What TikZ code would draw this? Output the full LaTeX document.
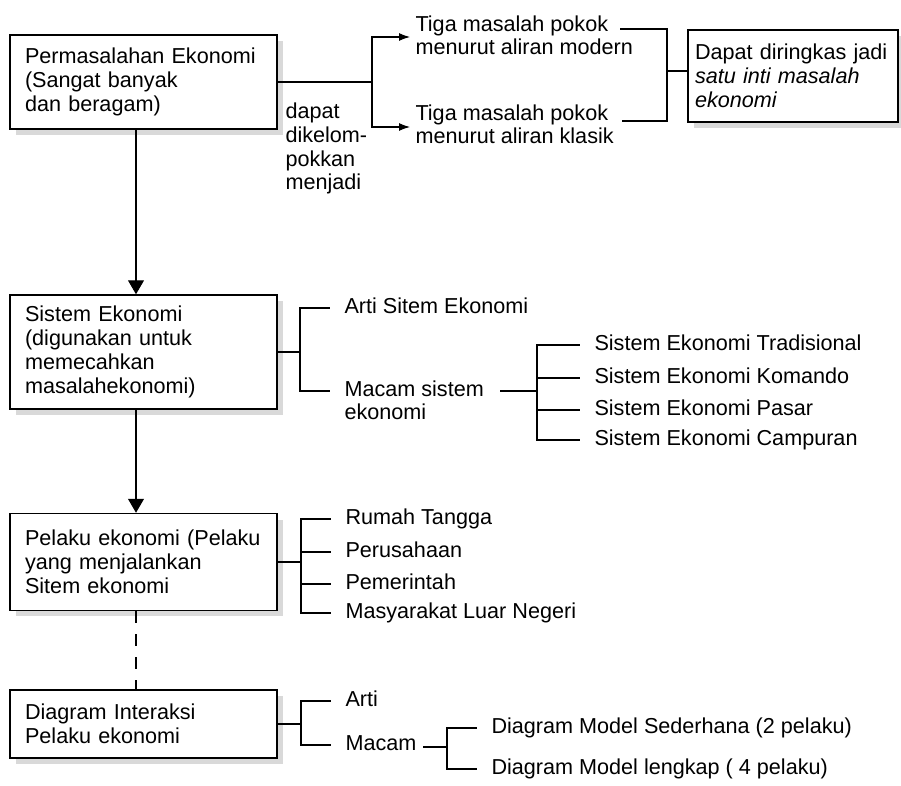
\documentclass[tikz,border=0pt]{standalone}
\usepackage{fontspec}
\setsansfont{Liberation Sans}
\usetikzlibrary{arrows.meta,shadows}
\tikzset{
  kotak/.style={draw, fill=white, line width=0.85pt, align=left, text width=4.74cm,
    inner xsep=0.3cm, minimum height=#1,
    drop shadow={shadow xshift=0.12cm, shadow yshift=-0.12cm, fill=black!15, opacity=1}},
  daun/.style={anchor=west, inner xsep=0.28cm, inner ysep=0.05cm, text height=9pt, text depth=2.6pt},
  panah/.style={-{Triangle[length=0.28cm,width=0.32cm]}},
  panahkecil/.style={-{Latex[length=0.22cm,width=0.16cm]}}
}
\begin{document}
\begin{tikzpicture}[x=0.02cm, y=-0.02cm, font=\sffamily\fontsize{12.3}{13.6}\selectfont, line width=0.6pt]
  \useasboundingbox (0,0) rectangle (901,786);
  % kotak utama
  \node[kotak=1.88cm] (masalah) at (143.5,82) {Permasalahan Ekonomi\\(Sangat banyak\\dan beragam)};
  \node[kotak=2.28cm] (sistem) at (143.5,352) {Sistem Ekonomi\\(digunakan untuk\\memecahkan\\masalahekonomi)};
  \node[kotak=1.94cm] (pelaku) at (143.5,562) {Pelaku ekonomi (Pelaku\\yang menjalankan\\Sitem ekonomi};
  \node[kotak=1.36cm] (diagram) at (143.5,724) {Diagram Interaksi\\Pelaku ekonomi};
  \node[kotak=1.84cm, text width=3.92cm, inner xsep=0.14cm] (inti) at (793,76) {Dapat diringkas jadi\\\textit{satu inti masalah}\\\textit{ekonomi}};
  \coordinate (sumbu) at (136,0);
  \draw[panah] (masalah.south -| sumbu) -- (sistem.north -| sumbu);
  \draw[panah] (sistem.south -| sumbu) -- (pelaku.north -| sumbu);
  \draw[dash pattern=on 0.24cm off 0.22cm] (pelaku.south -| sumbu) -- (diagram.north -| sumbu);

  % masalah pokok
  \coordinate (c1) at (372,82); \coordinate (gabung) at (667,71);
  \coordinate (ujung1) at (620,29); \coordinate (ujung2) at (622,121);
  \node[anchor=base west, align=left, inner xsep=0.1cm] (modern) at (410,55) {Tiga masalah pokok\\menurut aliran modern};
  \node[anchor=base west, align=left, inner xsep=0.1cm] (klasik) at (410,144) {Tiga masalah pokok\\menurut aliran klasik};
  \node[anchor=base west, align=left, inner sep=0pt] (catatan) at (285,190) {dapat\\dikelom-\\pokkan\\menjadi};
  \draw (masalah.east) -- (c1);
  \draw[panahkecil] (c1) |- ([yshift=0.36cm]modern.base west);
  \draw[panahkecil] (c1) |- ([yshift=0.34cm]klasik.base west);
  \draw (ujung1) -| (gabung) |- (ujung2);
  \draw (gabung) -- (inti.west |- gabung);

  % sistem ekonomi
  \coordinate (c2) at (300,352); \coordinate (m1) at (500,391); \coordinate (c3) at (537,391);
  \node[daun] (arti) at (330,308) {Arti Sitem Ekonomi};
  \node[daun] (macam) at (330,391) {Macam sistem};
  \node[daun] (macam2) at (330,414) {ekonomi};
  \node[daun] (trad) at (580,345) {Sistem Ekonomi Tradisional};
  \node[daun] (komando) at (580,378) {Sistem Ekonomi Komando};
  \node[daun] (pasar) at (580,410) {Sistem Ekonomi Pasar};
  \node[daun] (campuran) at (580,440) {Sistem Ekonomi Campuran};
  \draw (sistem.east) -- (c2);
  \foreach \n in {arti,macam} \draw (c2) |- (\n.west);
  \draw (m1) -- (c3);
  \foreach \n in {trad,komando,pasar,campuran} \draw (c3) |- (\n.west);

  % pelaku ekonomi
  \coordinate (c4) at (301,562);
  \node[daun] (rumah) at (331,519) {Rumah Tangga};
  \node[daun] (perusahaan) at (331,552) {Perusahaan};
  \node[daun] (pemerintah) at (331,584) {Pemerintah};
  \node[daun] (luar) at (331,613) {Masyarakat Luar Negeri};
  \draw (pelaku.east) -- (c4);
  \foreach \n in {rumah,perusahaan,pemerintah,luar} \draw (c4) |- (\n.west);

  % diagram interaksi
  \coordinate (c5) at (301,724); \coordinate (m2) at (423,747); \coordinate (c6) at (447,747);
  \node[daun] (arti2) at (331,701) {Arti};
  \node[daun] (macam3) at (331,745) {Macam};
  \node[daun] (sederhana) at (477,728) {Diagram Model Sederhana (2 pelaku)};
  \node[daun] (lengkap) at (477,769) {Diagram Model lengkap ( 4 pelaku)};
  \draw (diagram.east) -- (c5);
  \foreach \n in {arti2,macam3} \draw (c5) |- (\n.west);
  \draw (m2) -- (c6);
  \foreach \n in {sederhana,lengkap} \draw (c6) |- (\n.west);
\end{tikzpicture}
\end{document}
